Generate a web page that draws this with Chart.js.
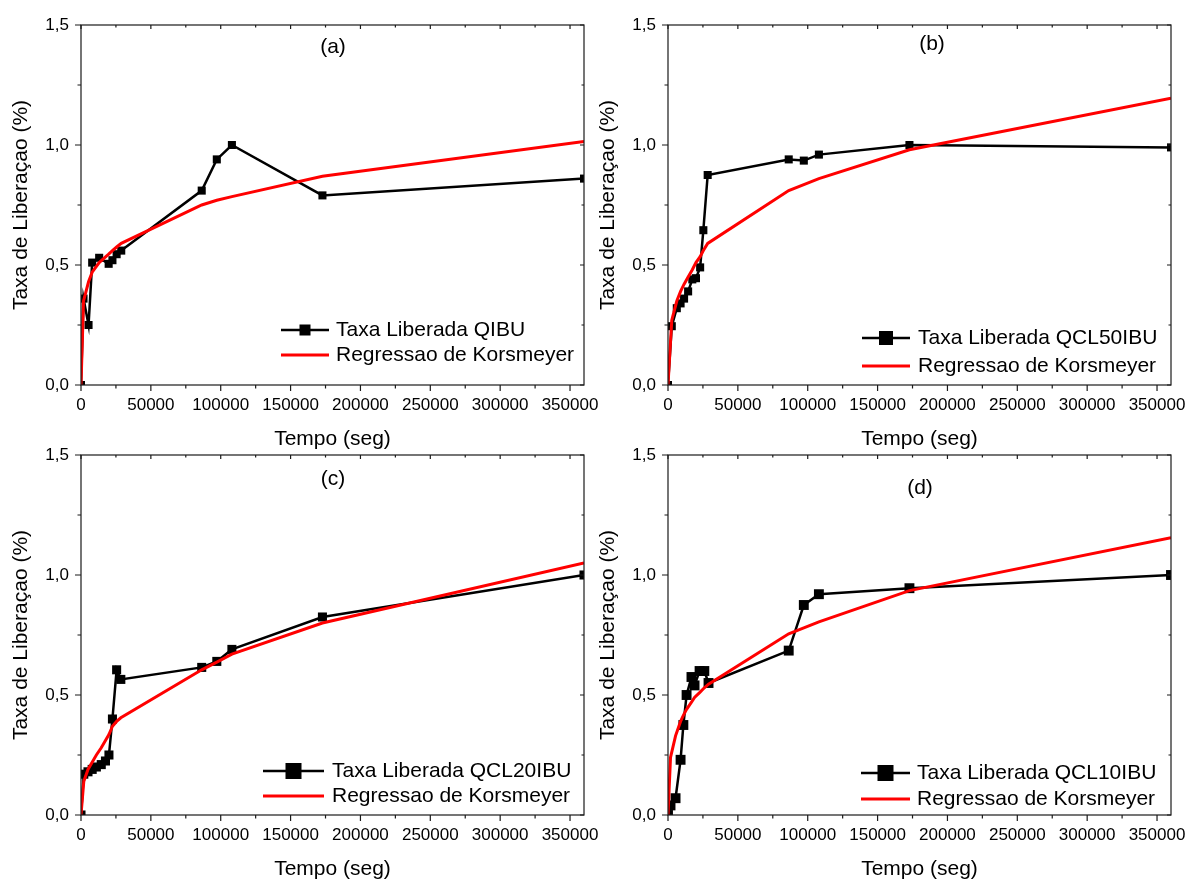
<!DOCTYPE html>
<html>
<head>
<meta charset="utf-8">
<script src="https://cdn.jsdelivr.net/npm/chart.js@4"></script>
<style>
  body { margin: 0; background: #fff; width: 1187px; height: 882px; position: relative; overflow: hidden; }
  canvas { position: absolute; }
</style>
</head>
<body>
<canvas id="ga" width="600" height="452" style="left:0;top:0"></canvas>
<canvas id="gb" width="600" height="452" style="left:587px;top:0"></canvas>
<canvas id="gc" width="600" height="452" style="left:0;top:430px"></canvas>
<canvas id="gd" width="600" height="452" style="left:587px;top:430px"></canvas>
<script>
const $ = id => document.getElementById(id);

// tempos (s), taxa liberada e ajuste de Korsmeyer em cada amostra
const tempoA = [0, 1800, 5400, 8000, 13000, 19800, 22500, 25500, 28800, 86400, 97200, 108000, 172800, 360000];
const taxaA  = [0, 0.36, 0.25, 0.51, 0.53, 0.505, 0.52, 0.545, 0.56, 0.81, 0.94, 1.0, 0.79, 0.86];
const korsA  = [0, 0.35, 0.43, 0.47, 0.51, 0.545, 0.56, 0.575, 0.59, 0.75, 0.77, 0.785, 0.87, 1.015];

const tempoB = [0, 2700, 6300, 9000, 11500, 14400, 17400, 20000, 23000, 25300, 28400, 86400, 97200, 108000, 172800, 360000];
const taxaB  = [0, 0.245, 0.32, 0.34, 0.36, 0.39, 0.44, 0.445, 0.49, 0.645, 0.875, 0.94, 0.935, 0.96, 1.0, 0.99];
const korsB  = [0, 0.27, 0.35, 0.39, 0.42, 0.45, 0.48, 0.51, 0.535, 0.56, 0.59, 0.81, 0.835, 0.86, 0.98, 1.195];

const tempoC = [0, 2000, 5000, 8000, 11000, 14500, 17500, 20000, 22500, 25500, 28500, 86400, 97200, 108000, 172800, 360000];
const taxaC  = [0, 0.17, 0.18, 0.19, 0.20, 0.21, 0.225, 0.25, 0.40, 0.605, 0.565, 0.615, 0.64, 0.69, 0.825, 1.0];
const korsC  = [0, 0.14, 0.19, 0.22, 0.25, 0.28, 0.31, 0.335, 0.37, 0.39, 0.405, 0.605, 0.637, 0.67, 0.80, 1.05];

const tempoD = [0, 1800, 5400, 9000, 11000, 13300, 16800, 19000, 22600, 26000, 29000, 86400, 97200, 108000, 172800, 360000];
const taxaD  = [0, 0.04, 0.07, 0.23, 0.375, 0.50, 0.575, 0.54, 0.60, 0.60, 0.55, 0.685, 0.875, 0.92, 0.945, 1.0];
const korsD  = [0, 0.24, 0.33, 0.39, 0.415, 0.44, 0.47, 0.49, 0.51, 0.53, 0.545, 0.755, 0.78, 0.805, 0.935, 1.155];

const xTicks = [0, 50000, 100000, 150000, 200000, 250000, 300000, 350000];
const yTicks = [0, 0.5, 1.0, 1.5];

const FONTE = "'Liberation Sans', Arial, sans-serif";
const VERMELHO = '#ff0000';

// moldura com ticks nos quatro lados, letra do painel e legenda
const moldura = {
  id: 'moldura',
  afterDraw(chart, args, o) {
    const { ctx, chartArea: a, scales: { x, y } } = chart;
    ctx.save();
    ctx.strokeStyle = '#1a1a1a';
    ctx.lineWidth = 1.2;
    ctx.strokeRect(a.left, a.top, a.right - a.left, a.bottom - a.top);
    ctx.beginPath();
    for (let v = 0; v <= x.max; v += 25000) {
      const p = x.getPixelForValue(v), maior = v % 50000 === 0;
      ctx.moveTo(p, a.bottom); ctx.lineTo(p, a.bottom + (maior ? 6 : 3.5));
      ctx.moveTo(p, a.top); ctx.lineTo(p, a.top + (maior ? 4 : 2.5));
    }
    for (let v = 0; v <= y.max + 1e-9; v += 0.25) {
      const p = y.getPixelForValue(v), maior = Math.abs(v * 2 - Math.round(v * 2)) < 1e-9;
      ctx.moveTo(a.left, p); ctx.lineTo(a.left - (maior ? 6 : 3.5), p);
      ctx.moveTo(a.right, p); ctx.lineTo(a.right - (maior ? 4 : 2.5), p);
    }
    ctx.stroke();

    ctx.fillStyle = '#000';
    ctx.font = '21px ' + FONTE;
    ctx.textAlign = 'center';
    ctx.textBaseline = 'middle';
    ctx.fillText(o.letra, o.letraX, o.letraY);

    // legenda
    const [x0, x1, tx, r1, r2] = o.leg;
    const ds = chart.data.datasets;
    ctx.textAlign = 'left';
    ctx.strokeStyle = '#000';
    ctx.lineWidth = 2.5;
    ctx.beginPath(); ctx.moveTo(x0, r1); ctx.lineTo(x1, r1); ctx.stroke();
    const q = o.quad;
    ctx.fillRect((x0 + x1) / 2 - q / 2, r1 - q / 2, q, q);
    ctx.fillText(ds[1].label, tx, r1);
    ctx.strokeStyle = VERMELHO;
    ctx.lineWidth = 3;
    ctx.beginPath(); ctx.moveTo(x0, r2); ctx.lineTo(x1, r2); ctx.stroke();
    ctx.fillText(ds[0].label, tx, r2);
    ctx.restore();
  }
};

const paineis = [
  { id: 'ga', letra: '(a)', serie: 'Taxa Liberada QIBU', tempo: tempoA, taxa: taxaA, kors: korsA, ponto: 5.7, quad: 11, letraX: 333, letraY: 47, leg: [281, 329, 336, 330, 355] },
  { id: 'gb', letra: '(b)', serie: 'Taxa Liberada QCL50IBU', tempo: tempoB, taxa: taxaB, kors: korsB, ponto: 5.7, quad: 14, letraX: 345, letraY: 44, leg: [275, 323, 331, 338, 366] },
  { id: 'gc', letra: '(c)', serie: 'Taxa Liberada QCL20IBU', tempo: tempoC, taxa: taxaC, kors: korsC, ponto: 6.4, quad: 16, letraX: 333, letraY: 49, leg: [263, 324, 332, 341, 366] },
  { id: 'gd', letra: '(d)', serie: 'Taxa Liberada QCL10IBU', tempo: tempoD, taxa: taxaD, kors: korsD, ponto: 7.0, quad: 16, letraX: 333, letraY: 58, leg: [274, 323, 330, 343, 369] },
];

paineis.forEach(p => {
  const pts = ys => p.tempo.map((t, i) => ({ x: t, y: ys[i] }));
  new Chart($(p.id), {
    type: 'line',
    data: {
      datasets: [
        { label: 'Regressao de Korsmeyer', data: pts(p.kors), borderColor: VERMELHO, borderWidth: 3, pointRadius: 0, tension: 0, order: 0 },
        { label: p.serie, data: pts(p.taxa), borderColor: '#000', backgroundColor: '#000', borderWidth: 2.5,
          pointStyle: 'rect', pointRadius: p.ponto, pointHoverRadius: p.ponto, pointBorderWidth: 0, tension: 0, order: 1 },
      ],
    },
    options: {
      responsive: false, animation: false, events: [],
      layout: { padding: { top: 25, right: 16, left: 0, bottom: 0 } },
      plugins: { legend: { display: false }, tooltip: { enabled: false }, moldura: p },
      scales: {
        x: {
          type: 'linear', min: 0, max: 360000,
          afterBuildTicks: s => { s.ticks = xTicks.map(v => ({ value: v })); },
          afterFit: s => { s.height = 67; s.paddingLeft = 0; s.paddingRight = 0; },
          grid: { display: false, drawTicks: false }, border: { display: false },
          ticks: { padding: 10, maxRotation: 0, autoSkip: false, color: '#000', font: { family: FONTE, size: 17 }, callback: v => String(v) },
          title: { display: true, text: 'Tempo (seg)', color: '#000', font: { family: FONTE, size: 21 }, padding: { top: 0, bottom: 0 } },
        },
        y: {
          min: 0, max: 1.5,
          afterBuildTicks: s => { s.ticks = yTicks.map(v => ({ value: v })); },
          afterFit: s => { s.width = 81; s.paddingTop = 0; s.paddingBottom = 0; },
          grid: { display: false, drawTicks: false }, border: { display: false },
          ticks: { padding: 12, color: '#000', font: { family: FONTE, size: 17 }, callback: v => v.toFixed(1).replace('.', ',') },
          title: { display: true, text: 'Taxa de Liberaçao (%)', color: '#000', font: { family: FONTE, size: 21 }, padding: { top: 9, bottom: 0 } },
        },
      },
    },
    plugins: [moldura],
  });
});
</script>
</body>
</html>
